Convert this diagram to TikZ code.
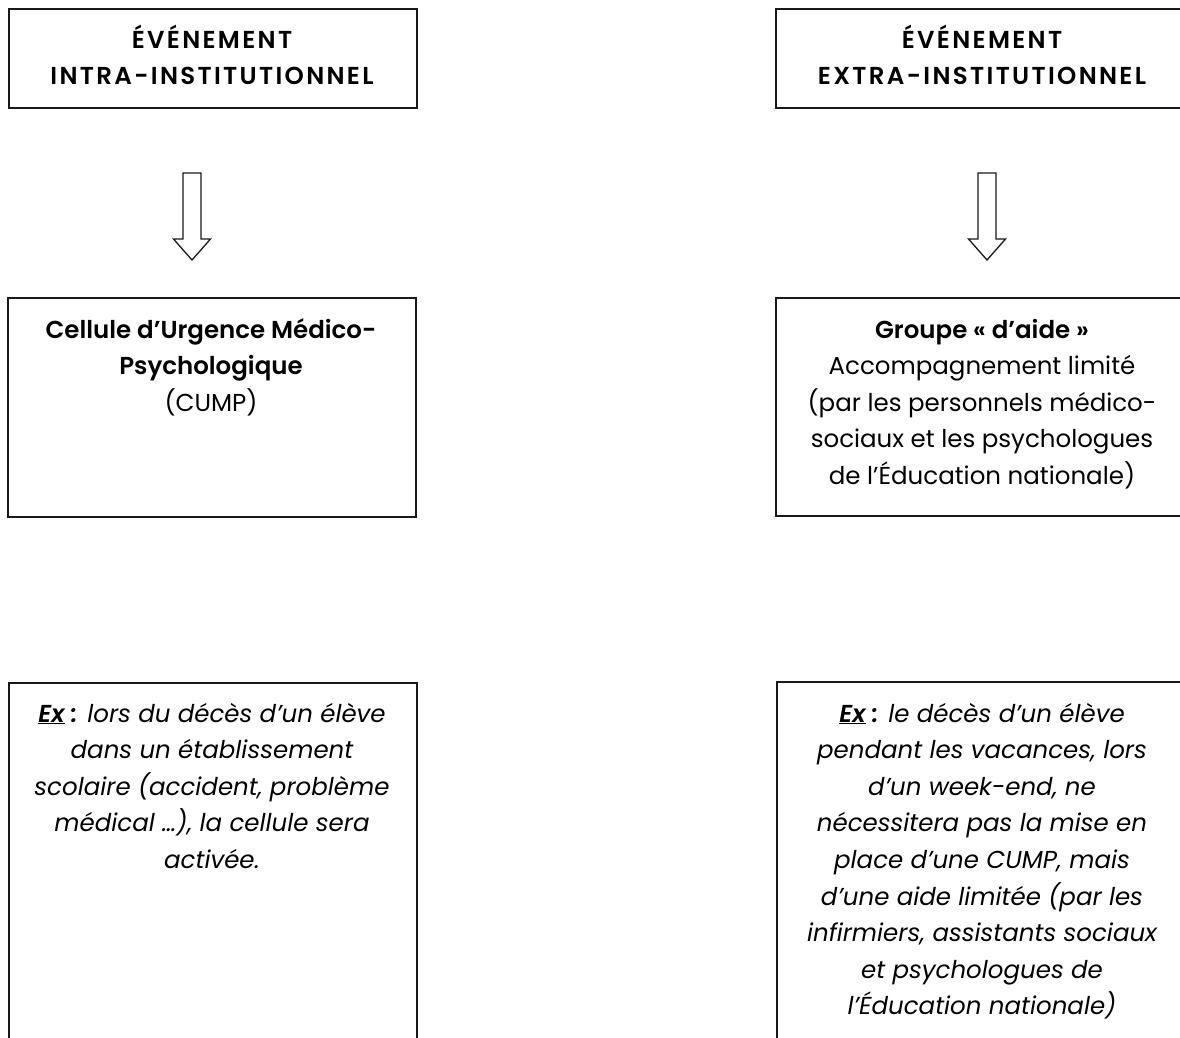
\documentclass[tikz,border=0pt]{standalone}
\usepackage{fontspec}
\setmainfont{Poppins}[BoldFont={Poppins SemiBold},BoldItalicFont={Poppins SemiBold Italic}]
\newfontfamily\capsfont{Poppins}[LetterSpace=9.5,BoldFont={Poppins SemiBold}]
\begin{document}
\begin{tikzpicture}[x=1pt,y=-1pt,
  box/.style={draw=black!90, line width=1.6pt, anchor=north west, inner sep=0pt},
  txt/.style={anchor=base, inner sep=0pt, font=\fontsize{24.5}{36.6}\selectfont},
  downarrow/.pic={\draw[line width=1.3pt, draw=black!90, line join=miter]
     (-9,0) -- (9,0) -- (9,66) -- (18.5,66) -- (0,87) -- (-18.5,66) -- (-9,66) -- cycle;}]
\useasboundingbox (0,0) rectangle (1180,1037);
\clip (0,0) rectangle (1180,1037);
% boxes
\node[box, minimum width=408, minimum height=99] (tl) at (8,8) {};
\node[box, minimum width=414, minimum height=99] (tr) at (775,8) {};
\node[box, minimum width=408, minimum height=219] (ml) at (7,297) {};
\node[box, minimum width=414, minimum height=218] (mr) at (775,297) {};
\node[box, minimum width=408, minimum height=400] (bl) at (8,682) {};
\node[box, minimum width=414, minimum height=400] (br) at (776,681) {};
% arrows
\pic (arl) at (192,173) {downarrow};
\pic (arr) at (987,173) {downarrow};
% texts
\node[txt] (tlt) at (212,48) {\capsfont\begin{tabular}[t]{@{}c@{}}\bfseries ÉVÉNEMENT\\\bfseries INTRA-INSTITUTIONNEL\end{tabular}};
\node[txt] (trt) at (982,48) {\capsfont\begin{tabular}[t]{@{}c@{}}\bfseries ÉVÉNEMENT\\\bfseries EXTRA-INSTITUTIONNEL\end{tabular}};
\node[txt] (mlt) at (211,338) {\begin{tabular}[t]{@{}c@{}}\bfseries Cellule d’Urgence Médico-\\\bfseries Psychologique\\(CUMP)\end{tabular}};
\node[txt] (mrt) at (982,338) {\begin{tabular}[t]{@{}c@{}}\bfseries Groupe « d’aide »\\Accompagnement limité\\(par les personnels médico-\\sociaux et les psychologues\\de l’Éducation nationale)\end{tabular}};
\node[txt] (blt) at (212,722) {\itshape\begin{tabular}[t]{@{}c@{}}\textbf{\underline{Ex} :} lors du décès d’un élève\\dans un établissement\\scolaire (accident, problème\\médical …), la cellule sera\\activée.\end{tabular}};
\node[txt] (brt) at (982,722) {\itshape\begin{tabular}[t]{@{}c@{}}\textbf{\underline{Ex} :} le décès d’un élève\\pendant les vacances, lors\\d’un week-end, ne\\nécessitera pas la mise en\\place d’une CUMP, mais\\d’une aide limitée (par les\\infirmiers, assistants sociaux\\et psychologues de\\l’Éducation nationale)\end{tabular}};
\end{tikzpicture}
\end{document}
